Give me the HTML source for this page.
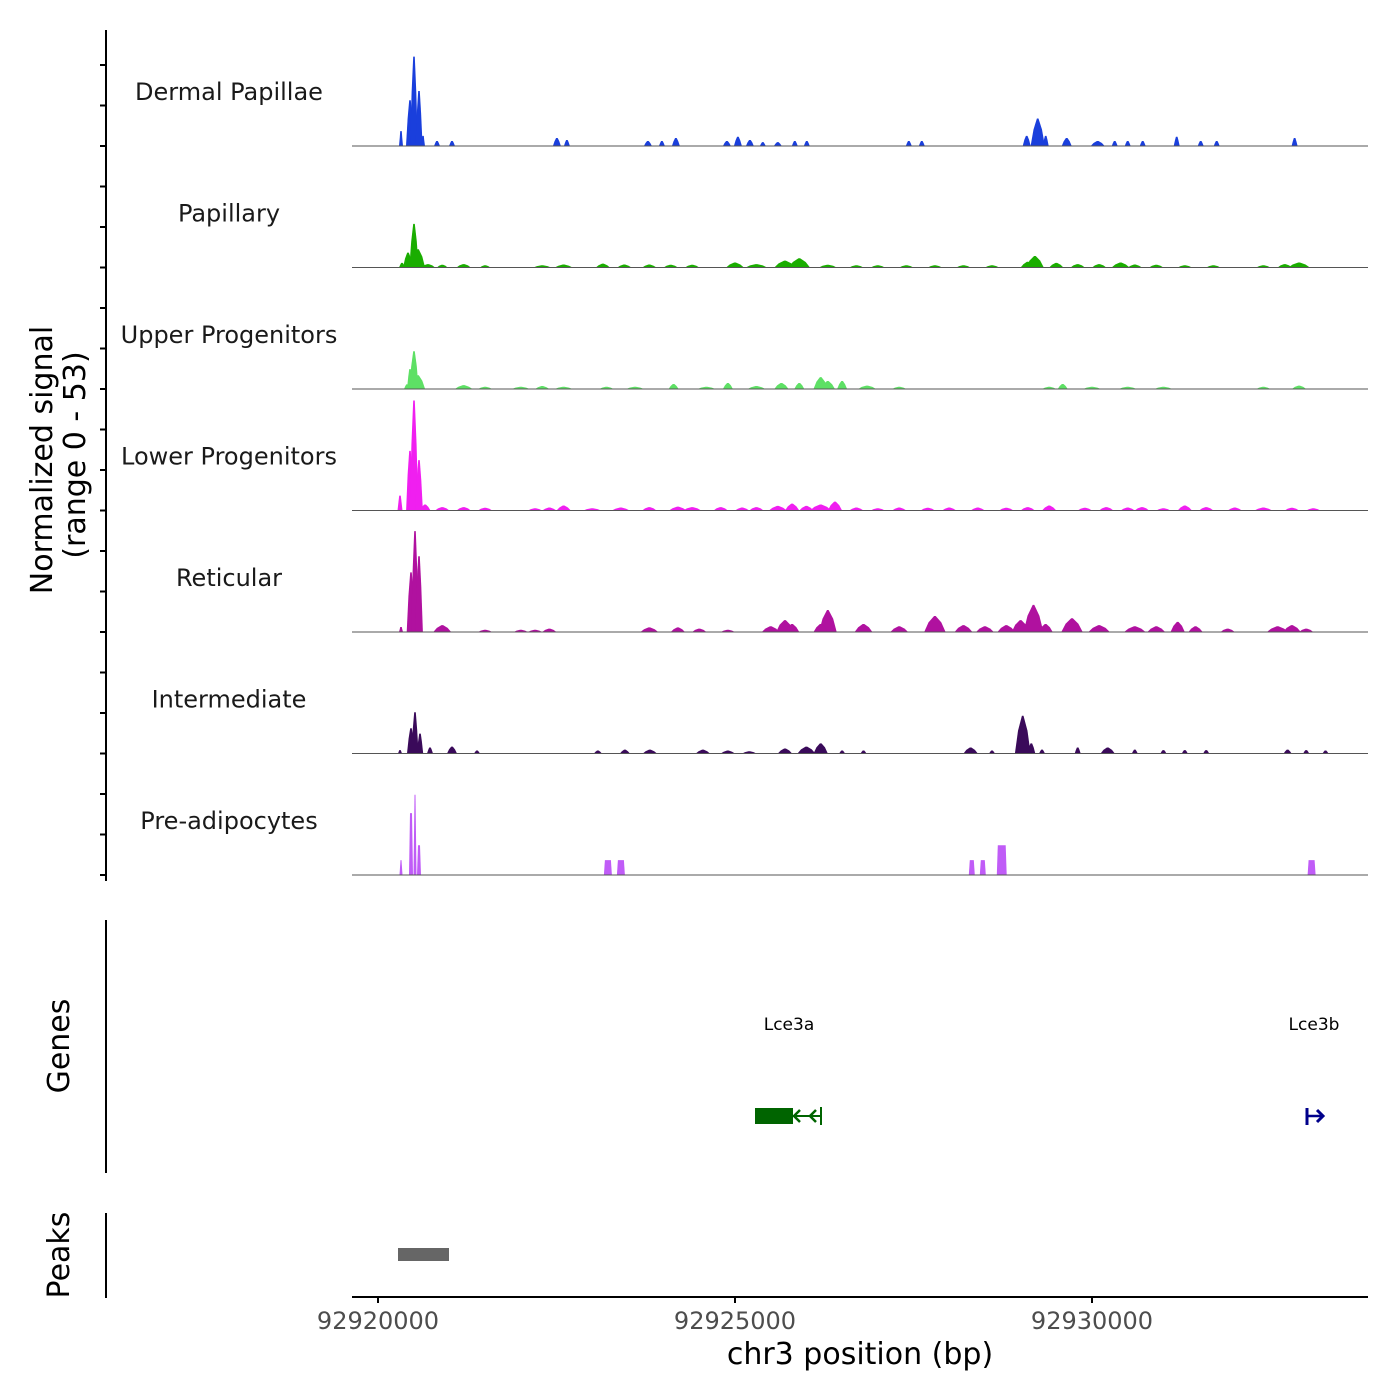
<!DOCTYPE html>
<html><head><meta charset="utf-8"><style>
body{margin:0;background:#fff;}
svg{display:block;font-family:"DejaVu Sans","Liberation Sans",sans-serif;}
</style></head><body>
<svg id="chart" width="1400" height="1400" viewBox="0 0 1400 1400" xmlns="http://www.w3.org/2000/svg">
<rect width="1400" height="1400" fill="#fff"/>
<g id="tracks"></g>
<g id="axes"></g>
<text transform="translate(52,460) rotate(-90)" text-anchor="middle" font-size="30" fill="#000">Normalized signal</text>
<text transform="translate(85,455) rotate(-90)" text-anchor="middle" font-size="30" fill="#000">(range 0 - 53)</text>
<text transform="translate(69,1046) rotate(-90)" text-anchor="middle" font-size="30" fill="#000">Genes</text>
<text transform="translate(69,1255) rotate(-90)" text-anchor="middle" font-size="30" fill="#000">Peaks</text>
<text x="860" y="1364" text-anchor="middle" font-size="30" fill="#000">chr3 position (bp)</text>
<g>
<text x="789" y="1030" text-anchor="middle" font-size="17" fill="#000">Lce3a</text>
<rect x="755" y="1108" width="38" height="16" fill="#006400"/>
<line x1="793" y1="1116" x2="821" y2="1116" stroke="#006400" stroke-width="2"/>
<path d="M800 1110 L794 1116 L800 1122 M816 1110 L810 1116 L816 1122" stroke="#006400" stroke-width="2.5" fill="none"/>
<line x1="821" y1="1107" x2="821" y2="1125" stroke="#006400" stroke-width="2"/>
</g>
<g>
<text x="1314" y="1030" text-anchor="middle" font-size="17" fill="#000">Lce3b</text>
<line x1="1307" y1="1108" x2="1307" y2="1125" stroke="#00008b" stroke-width="3"/>
<line x1="1307" y1="1116" x2="1323" y2="1116" stroke="#00008b" stroke-width="2.5"/>
<path d="M1317 1110 L1323 1116 L1317 1122" stroke="#00008b" stroke-width="3" fill="none"/>
</g>
<rect x="398" y="1248" width="51" height="13" fill="#666"/>
</svg>
<script>
const chromStart = 92920000;
const trackNames = ["Dermal Papillae","Papillary","Upper Progenitors","Lower Progenitors","Reticular","Intermediate","Pre-adipocytes"];
const trackColors = ["#1a3fdc","#1aad00","#5ee065","#f01ff0","#b0119f","#3a0a5a","#c05cf7"];
const xTicks = [92920000, 92925000, 92930000];
const yMax = 53;
// peak centers (bp offset from chromStart), widths (bp), values (signal)
const dpCenters = [322,448,504,574,630,826,1036,2506,2646,3780,3976,4172,4886,5040,5208,5390,5600,5838,6006,7434,7616,9086,9240,9352,9646,10080,10318,10500,10710,11186,11522,11746,12838];
const dpWidths  = [56,112,110,100,56,84,84,112,84,112,84,112,112,112,112,84,112,84,84,84,84,112,200,84,140,196,84,84,84,84,84,84,84];
const dpValues  = [6.5,20,39,24,4.4,2.2,2.2,3.5,2.6,2.2,2.2,3.5,2.2,4,2.6,1.7,1.7,2.2,2.2,2.2,2.2,4.4,12,4.4,3.5,2.2,2.2,2.2,2.2,4,2.2,2.2,3.5];
const paCenters = [336,420,504,560,700,900,1200,1500,2300,2600,3150,3450,3800,4100,4400,5000,5300,5700,5900,6300,6700,7000,7400,7800,8200,8600,9100,9200,9500,9800,10100,10400,10600,10900,11300,11700,12400,12700,12900];
const paWidths  = [84,140,130,200,200,150,200,150,250,250,200,200,200,200,200,250,300,300,300,250,200,200,200,200,200,200,200,250,200,200,200,250,200,200,200,200,200,200,300];
const paValues  = [2,6.5,19,8,1.5,1.2,1.5,1,1,1.3,1.7,1.3,1.3,1.2,1.2,2.2,1.5,3,4,1.2,1,1,1,1,1,1,2.5,5,2,1.5,1.5,2.2,1.3,1.2,1,1,1,1.5,2.2];
const upCenters = [406,448,504,560,1200,1500,2000,2300,2600,3200,3600,4140,4600,4900,5300,5650,5900,6200,6300,6500,6850,7300,9400,9590,10000,10500,11000,12400,12900];
const upWidths  = [84,84,130,200,250,200,250,200,250,200,250,140,250,140,250,200,140,200,200,140,250,200,200,140,250,250,250,200,200];
const upValues  = [2,8.7,16.5,6,1.7,1,1,1.3,1,1,1,2.2,1,2.6,1.3,2.6,2.6,5.2,3.5,3.5,1.5,1,1,2.2,1,1,1,1,1.5];
const lpCenters = [308,448,504,574,660,900,1200,1500,2200,2400,2600,3000,3400,3800,4200,4400,4800,5100,5300,5600,5800,6000,6200,6400,6700,7000,7300,7700,8000,8400,8800,9100,9400,9900,10200,10500,10700,11000,11300,11600,12000,12400,12800,13100];
const lpWidths  = [70,110,120,110,150,200,200,200,200,200,200,250,250,200,250,250,200,200,200,250,200,200,300,200,200,200,200,200,200,200,200,200,200,200,200,200,200,200,200,200,200,250,200,200];
const lpValues  = [6.5,26,48,22,2.6,1.5,1.5,1.2,1,1.3,2.2,1,1.3,1.5,1.7,1.5,1.5,1.3,1.5,2,3,2,2.6,3.9,1.3,1,1.3,1.2,1.3,1.3,1.2,1.5,2.2,1.2,1.5,1.3,1.5,1,2.2,1.5,1.3,1.3,1.2,1];
const reCenters = [322,462,518,574,900,1500,2000,2200,2400,3800,4200,4500,4900,5500,5700,5800,6300,6200,6800,7300,7800,8200,8500,8800,9180,9000,9350,9720,10100,10600,10900,11200,11450,11900,12600,12800,13000];
const reWidths  = [56,120,110,110,250,200,200,200,200,250,200,200,200,250,250,200,250,200,250,250,300,250,250,250,280,250,200,300,300,300,250,200,200,200,300,250,200];
const reValues  = [2.2,26,44,33,3,1,1,1,1.5,2,2,1.5,1,2.5,5.2,3.5,9.6,3.5,3.5,2.5,7,3,2.5,3,11.8,5.2,3.5,6,3,2.5,2.5,4.4,2.5,1.5,2.5,3,1.5];
const inCenters = [308,462,518,588,728,1036,1386,3080,3458,3808,4550,4900,5200,5700,6000,6200,6500,6800,8300,8600,9030,9150,9300,9800,10220,10600,11000,11300,11600,12740,13000,13270];
const inWidths  = [56,112,100,90,84,140,84,112,140,200,200,200,200,200,250,200,84,84,200,84,220,112,84,84,200,84,84,84,84,112,84,84];
const inValues  = [1.5,11,18,8.7,2.6,3,1.3,1.3,1.7,1.7,1.7,1.3,1,2.2,3,4.4,1.3,1.3,2.6,1.3,16.5,4.4,1.7,2.6,2.6,1.7,1.5,1.5,1.5,1.7,1.5,1.3];
const paCentersPre = [322,462,518,574,3220,3402,8316,8470,8736,13076];
const paWidthsPre  = [42,56,42,56,112,112,84,84,140,112];
const paValuesPre  = [6.5,27,35,13,6.5,6.5,6.5,6.5,13,6.5];

const trackCenters = [dpCenters,paCenters,upCenters,lpCenters,reCenters,inCenters,paCentersPre];
const trackWidths = [dpWidths,paWidths,upWidths,lpWidths,reWidths,inWidths,paWidthsPre];
const trackValues = [dpValues,paValues,upValues,lpValues,reValues,inValues,paValuesPre];

const NS = "http://www.w3.org/2000/svg";
const pxPerBp = 357/5000;
function xScale(bp){ return 378 + (bp - chromStart)*pxPerBp; }
const trackH = 121.5;
function baseY(i){ return 146 + i*trackH; }
function yScale(v, i){ return baseY(i) - v*(trackH/yMax); }

const tracksG = document.getElementById('tracks');
const axesG = document.getElementById('axes');
for (let i=0;i<7;i++){
  const g = document.createElementNS(NS,'g');
  
  
  tracksG.appendChild(g);
  const lbl = document.createElementNS(NS,'text');
  
  
  lbl.setAttribute('x', 229); lbl.setAttribute('y', baseY(i)-46);
  lbl.setAttribute('text-anchor','middle'); lbl.setAttribute('font-size','24'); lbl.setAttribute('fill','#1a1a1a');
  lbl.textContent = trackNames[i];
  g.appendChild(lbl);
  const cs = trackCenters[i], ws = trackWidths[i], vs = trackValues[i];
  const flat = (i===6);
  for (let k=0;k<cs.length;k++){
    const c = chromStart + cs[k], w = ws[k], v = vs[k];
    const x0 = xScale(c-w/2), x1 = xScale(c+w/2), xc = xScale(c);
    const y0 = baseY(i), yt = yScale(v,i);
    let pts;
    if (flat) pts = [[x0,y0],[x0+1,yt],[x1-1,yt],[x1,y0]];
    else {
      const ym = yScale(v*0.6,i);
      pts = [[x0,y0],[x0+(xc-x0)*0.4,ym],[xc-0.8,yt],[xc+0.8,yt],[xc+(x1-xc)*0.6,ym],[x1,y0]];
    }
    const p = document.createElementNS(NS,'polygon');
    
    
    p.setAttribute('points', pts.map(q=>q[0].toFixed(1)+','+q[1].toFixed(1)).join(' '));
    p.setAttribute('fill', trackColors[i]);
    g.appendChild(p);
  }
  const bl = document.createElementNS(NS,'line');
  
  
  bl.setAttribute('x1',352); bl.setAttribute('x2',1368);
  bl.setAttribute('y1',baseY(i)); bl.setAttribute('y2',baseY(i));
  bl.setAttribute('stroke','#555'); bl.setAttribute('stroke-width','1');
  g.appendChild(bl);
  for (let t=0;t<3;t++){
    const tk = document.createElementNS(NS,'line');
    
    
    const ty = baseY(i) - t*trackH/3;
    tk.setAttribute('x1',100); tk.setAttribute('x2',106);
    tk.setAttribute('y1',ty); tk.setAttribute('y2',ty);
    tk.setAttribute('stroke','#000'); tk.setAttribute('stroke-width','2');
    axesG.appendChild(tk);
  }
}
function addLine(name,x1,y1,x2,y2){
  const l = document.createElementNS(NS,'line');
  
  
  l.setAttribute('x1',x1); l.setAttribute('y1',y1); l.setAttribute('x2',x2); l.setAttribute('y2',y2);
  l.setAttribute('stroke','#000'); l.setAttribute('stroke-width','2');
  axesG.appendChild(l);
}
addLine('y-axis-line',106,30,106,881);
addLine('genes-axis-line',106,920,106,1173);
addLine('peaks-axis-line',106,1213,106,1298);
addLine('x-axis-line',352,1297,1368,1297);
for (const t of xTicks){
  const x = xScale(t);
  addLine('x-tick',x,1297,x,1303);
  const tx = document.createElementNS(NS,'text');
  
  
  tx.setAttribute('x',x); tx.setAttribute('y',1329);
  tx.setAttribute('text-anchor','middle'); tx.setAttribute('font-size','24'); tx.setAttribute('fill','#4d4d4d');
  tx.textContent = String(t);
  axesG.appendChild(tx);
}
</script>
</body></html>
